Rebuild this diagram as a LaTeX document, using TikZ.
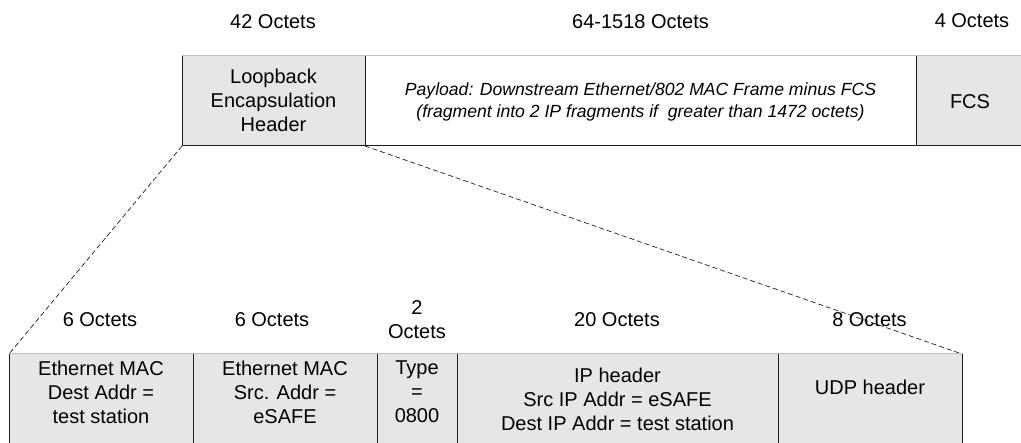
\documentclass[tikz,border=0pt]{standalone}
\usepackage{fontspec}
\setmainfont{Liberation Sans}
\definecolor{boxgray}{RGB}{230,230,230}
\definecolor{linedark}{RGB}{30,30,30}
\definecolor{linelight}{RGB}{190,190,190}
\begin{document}
\begin{tikzpicture}[x=1pt,y=-1pt,
  fld/.style={fill=boxgray, inner sep=0pt, outer sep=0pt},
  wfld/.style={fill=white, inner sep=0pt, outer sep=0pt},
  txt/.style={align=center, inner sep=0pt, font=\fontsize{20}{24}\selectfont},
  ptxt/.style={align=center, inner sep=0pt, font=\fontsize{17.6}{21.5}\selectfont\itshape},
  dark/.style={draw=linedark, line width=1pt},
  light/.style={draw=linelight, line width=1pt},
  zoomline/.style={draw=linedark, line width=0.7pt, dash pattern=on 5pt off 3pt}]
\useasboundingbox (0,0) rectangle (1021,443);
% top row
\node[fld, minimum width=183pt, minimum height=90pt] (lb) at (273.5,101) {};
\node[wfld, minimum width=551pt, minimum height=90pt] (pl) at (640.5,101) {};
\node[fld, minimum width=110pt, minimum height=90pt] (fcs) at (971,101) {};
\draw[light] (lb.north west) -- (fcs.north east);
\draw[dark] (lb.north west) -- (lb.south west) -- (fcs.south east);
\draw[dark] (lb.north east) -- (lb.south east);
\draw[dark] (fcs.north west) -- (fcs.south west);
\node[txt] (lbt) at (273.5,100) {Loopback\\Encapsulation\\Header};
\node[ptxt] (plt) at (640.5,102) {Payload: Downstream Ethernet/802 MAC Frame minus FCS\\(fragment into 2 IP fragments if~ greater than 1472 octets)};
\node[txt] (fcst) at (970,102) {FCS};
\node[txt] (l42) at (273,22) {42 Octets};
\node[txt] (l64) at (640.5,22) {64-1518 Octets};
\node[txt] (l4) at (972,21) {4 Octets};
% bottom row
\node[fld, minimum width=184pt, minimum height=96pt] (b1) at (101,402) {};
\node[fld, minimum width=184pt, minimum height=96pt] (b2) at (285,402) {};
\node[fld, minimum width=80pt, minimum height=96pt] (b3) at (417,402) {};
\node[fld, minimum width=321pt, minimum height=96pt] (b4) at (617.5,402) {};
\node[fld, minimum width=184pt, minimum height=96pt] (b5) at (870,402) {};
\draw[light] (b1.north west) -- (b5.north east);
\foreach \b in {b1,b2,b3,b4,b5}{
  \draw[dark] (\b.north west) -- (\b.south west);
  \draw[dark] (\b.north east) -- (\b.south east);
}
\node[txt] (t1) at (101,392) {Ethernet MAC\\Dest Addr =\\test station};
\node[txt] (t2) at (285,392) {Ethernet MAC\\Src. Addr =\\eSAFE};
\node[txt] (t3) at (417,392) {Type\\=\\0800};
\node[txt] (t4) at (617.5,399) {IP header\\Src IP Addr = eSAFE\\Dest IP Addr = test station};
\node[txt] (t5) at (870,387) {UDP header};
\node[txt] (o1) at (100,320) {6 Octets};
\node[txt] (o2) at (272,320) {6 Octets};
\node[txt] (o3) at (417,320) {2\\Octets};
\node[txt] (o4) at (617,320) {20 Octets};
\node[txt] (o5) at (869.5,320) {8 Octets};
% zoom lines
\draw[zoomline] (lb.south west) -- (b1.north west);
\draw[zoomline] (lb.south east) -- (b5.north east);
\end{tikzpicture}
\end{document}
